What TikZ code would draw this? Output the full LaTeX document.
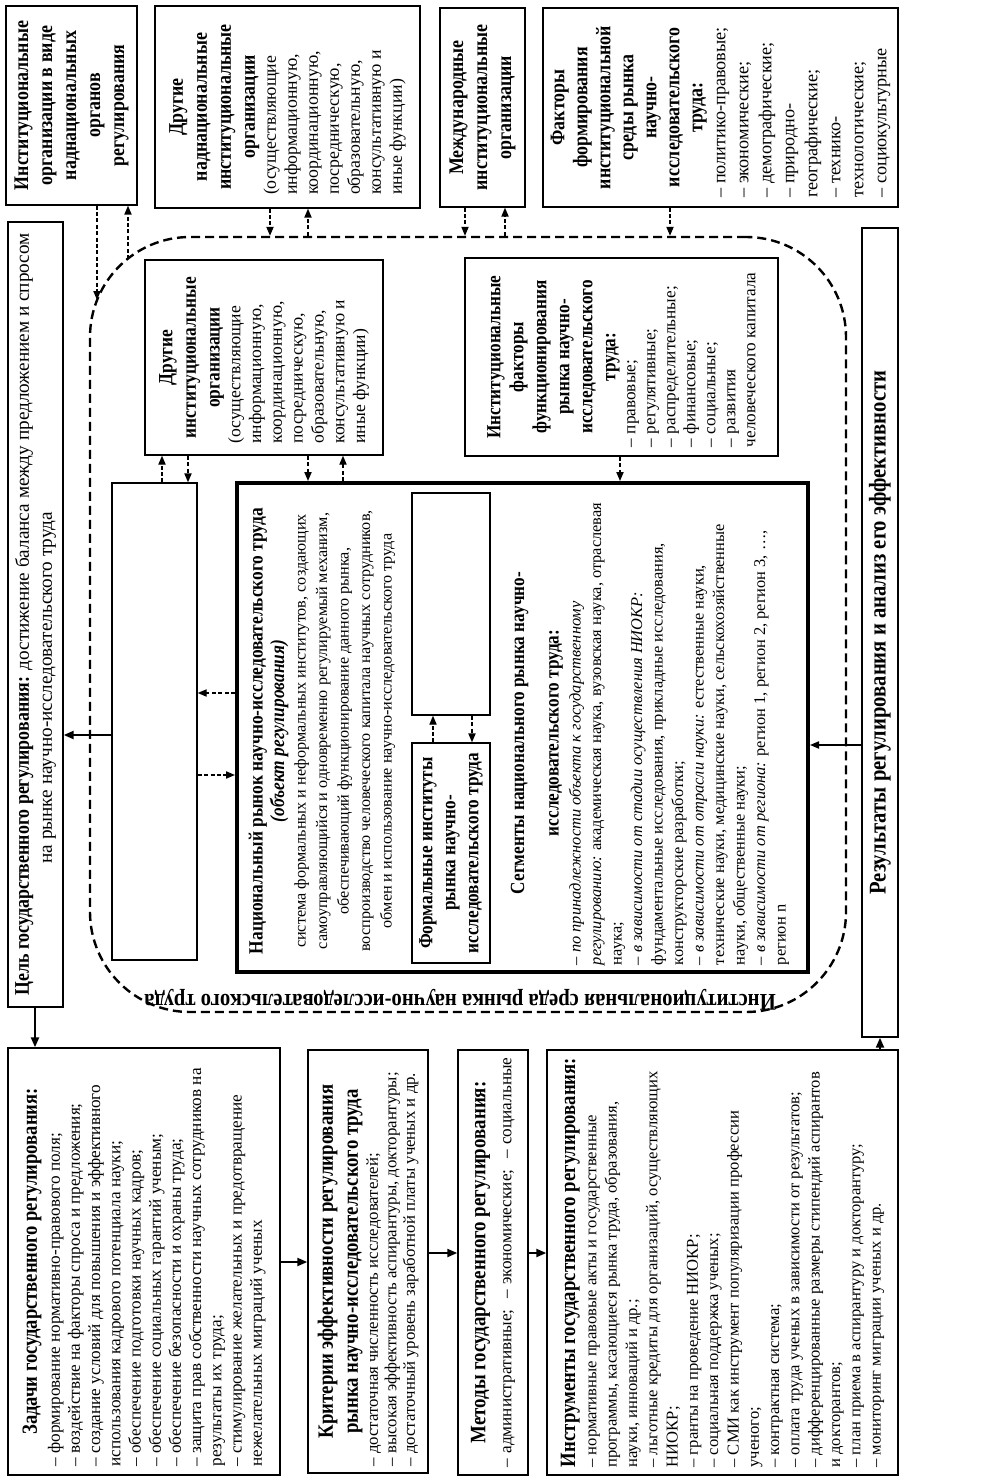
\documentclass[tikz,border=0pt]{standalone}
\usepackage{fontspec}
\setmainfont{Liberation Serif}[BoldFeatures={FakeStretch=0.86},BoldItalicFeatures={FakeStretch=0.86}]
\usetikzlibrary{arrows.meta}
\newlength\jw
\newcommand\Lj[1]{\makebox[\jw][l]{#1}}
\newcommand\Cj[1]{\makebox[\jw][c]{#1}}
\newcommand\Sj[1]{\makebox[\jw][s]{#1}}
\newcommand\fs[2]{\fontsize{#1}{#2}\selectfont}
\newcommand\Tl[2][10.4]{\Cj{\fs{#1}{12}\bfseries #2}}
\newcommand\rbox[7]{%
  \pgfmathsetmacro\rbcx{(#2+#4)/2}%
  \pgfmathsetmacro\rbcy{(#3+#5)/2}%
  \pgfmathsetmacro\rbw{(#5-#3)/2}%
  \pgfmathsetmacro\rbh{(#4-#2)/2}%
  \node[box, rotate=90, minimum width=\rbw pt, minimum height=\rbh pt, #6] (#1) at (\rbcx,\rbcy) {#7};}
\tikzset{
  box/.style={draw, line width=0.7pt, inner sep=0pt},
  jw/.style={execute at begin node={\setlength\jw{#1}}},
  dar/.style={line width=0.7pt, dash pattern=on 2pt off 1.2pt, -{Triangle[length=4.5pt,width=3.6pt]}},
  sar/.style={line width=1.1pt, -{Triangle[length=5pt,width=4pt]}},
  tar/.style={line width=0.7pt, -{Triangle[length=4.5pt,width=3.6pt]}},
  envst/.style={draw, line width=1.2pt, dash pattern=on 4.5pt off 2.5pt, rounded corners=50pt, inner sep=0pt},
}
\begin{document}
\begin{tikzpicture}[x=0.5pt,y=-0.5pt]
\useasboundingbox[fill=white] (0,0) rectangle (980,1482);

% environment
\node[envst, minimum width=378pt, minimum height=387.5pt] (env) at (468,624.5) {};
\node[rotate=180, font=\fs{12}{13}\bfseries] (envl) at (460,1000) {Институциональная среда рынка научно-исследовательского труда};
\coordinate (eA1) at (97,300);
\coordinate (eA2) at (128,259);

% top row
\rbox{A}{6}{6}{137}{205}{font=\fs{10.4}{12}\bfseries, align=center}{Институциональные\\организации в виде\\наднациональных\\органов\\регулирования}
\rbox{B}{155}{6}{420}{208}{font=\fs{8.9}{10.5}, jw=88pt, align=left}{\Tl{Другие}\\[1.5pt]\Tl{наднациональные}\\[1.5pt]\Tl{институциональные}\\[1.5pt]\Tl{организации}\\\Lj{(осуществляющие}\\\Lj{информационную,}\\\Lj{координационную,}\\\Lj{посредническую,}\\\Lj{образовательную,}\\\Lj{консультативную и}\\\Lj{иные функции)}}
\rbox{C}{440}{8}{525}{207}{font=\fs{10.4}{12}\bfseries, align=center}{Международные\\институциональные\\организации}
\rbox{D}{543}{8}{898}{207}{font=\fs{9.1}{11.5}, jw=90pt, align=left}{\Tl{Факторы}\\\Tl{формирования}\\\Tl{институциональной}\\\Tl{среды рынка}\\\Tl{научно-}\\\Tl{исследовательского}\\\Tl{труда:}\\\Lj{– политико-правовые;}\\\Lj{– экономические;}\\\Lj{– демографические;}\\\Lj{– природно-}\\\Lj{географические;}\\\Lj{– технико-}\\\Lj{технологические;}\\\Lj{– социокультурные}}

% goal
\rbox{G}{8}{222}{63}{1007}{font=\fs{9.6}{11.5}, jw=377pt, align=left}{\Cj{{\fs{10.4}{12}\bfseries Цель государственного регулирования:} достижение баланса между предложением и спросом}\\\Lj{\hspace{64pt}на рынке научно-исследовательского труда}}

% inner boxes
\rbox{E}{145}{260}{383}{455}{font=\fs{8.8}{10.4}, jw=86pt, align=left}{\Tl[10.1]{Другие}\\[1.4pt]\Tl[10.1]{институциональные}\\[1.4pt]\Tl[10.1]{организации}\\\Lj{(осуществляющие}\\\Lj{информационную,}\\\Lj{координационную,}\\\Lj{посредническую,}\\\Lj{образовательную,}\\\Lj{консультативную и}\\\Lj{иные функции)}}
\rbox{F}{465}{258}{778}{456}{font=\fs{8.6}{10}, jw=90pt, align=left}{\Tl[10]{Институциональные}\\[1.5pt]\Tl[10]{факторы}\\[1.5pt]\Tl[10]{функционирования}\\[1.5pt]\Tl[10]{рынка научно-}\\[1.5pt]\Tl[10]{исследовательского}\\[1.5pt]\Tl[10]{труда:}\\\Lj{– правовые;}\\\Lj{– регулятивные;}\\\Lj{– распределительные;}\\\Lj{– финансовые;}\\\Lj{– социальные;}\\\Lj{– развития}\\\Lj{человеческого капитала}}
\node[box, minimum width=42.5pt, minimum height=238.5pt] (L) at (154.5,721.5) {};
\node[box, line width=2pt, minimum width=285.5pt, minimum height=244.5pt] (M) at (522.5,727.5) {};
\node[box, minimum width=39pt, minimum height=111pt] (IE) at (451,604) {};
\rbox{FI}{412}{743}{490}{963}{font=\fs{10}{11.5}\bfseries, align=center}{Формальные институты\\рынка научно-\\исследовательского труда}
\node[rotate=90, align=center, font=\fs{8.1}{10.75}] (MT) at (322,731) {{\fs{10.1}{11}\bfseries Национальный рынок научно-исследовательского труда}\\{\fs{10.1}{11}\bfseries\itshape (объект регулирования)}\\система формальных и неформальных институтов, создающих\\самоуправляющийся и одновременно регулируемый механизм,\\обеспечивающий функционирование данного рынка,\\воспроизводство человеческого капитала научных сотрудников,\\обмен и использование научно-исследовательского труда};
\node[rotate=90, align=left, font=\fs{8.2}{10.25}, jw=232pt] (MS) at (650,733) {\Tl[10]{Сегменты национального рынка научно-}\\[7pt]\Tl[10]{исследовательского труда:}\\[0.7pt]\Lj{\itshape – по принадлежности объекта к государственному}\\\Lj{\textit{регулированию:} академическая наука, вузовская наука, отраслевая}\\\Lj{наука;}\\\Lj{\itshape – в зависимости от стадии осуществления НИОКР:}\\\Lj{фундаментальные исследования, прикладные исследования,}\\\Lj{конструкторские разработки;}\\\Lj{\textit{– в зависимости от отрасли науки:} естественные науки,}\\\Lj{технические науки, медицинские науки, сельскохозяйственные}\\\Lj{науки, общественные науки;}\\\Lj{\textit{– в зависимости от региона:} регион 1, регион 2, регион 3, …,}\\\Lj{регион n}};

% results
\rbox{R}{862}{228}{898}{1037}{font=\fs{12}{13}\bfseries, align=center}{Результаты регулирования и анализ его эффективности}

% bottom row
\rbox{Z}{8}{1048}{280}{1475}{font=\fs{8.6}{10.1}, jw=205pt, align=left}{\Cj{\fs{10.8}{12}\bfseries Задачи государственного регулирования:}\\[1.4pt]\Lj{– формирование нормативно-правового поля;}\\\Lj{– воздействие на факторы спроса и предложения;}\\\Lj{– создание условий для повышения и эффективного}\\\Lj{использования кадрового потенциала науки;}\\\Lj{– обеспечение подготовки научных кадров;}\\\Lj{– обеспечение социальных гарантий ученым;}\\\Lj{– обеспечение безопасности и охраны труда;}\\\Lj{– защита прав собственности научных сотрудников на}\\\Lj{результаты их труда;}\\\Lj{– стимулирование желательных и предотвращение}\\\Lj{нежелательных миграций ученых}}
\rbox{K}{308}{1050}{428}{1473}{font=\fs{8.4}{9.25}, jw=205pt, align=left}{\Tl[10.9]{Критерии эффективности регулирования}\\[3.25pt]\Tl[10.9]{рынка научно-исследовательского труда}\\[0.75pt]\Lj{– достаточная численность исследователей;}\\\Lj{– высокая эффективность аспирантуры, докторантуры;}\\\Lj{– достаточный уровень заработной платы ученых и др.}}
\rbox{Mt}{458}{1050}{528}{1475}{font=\fs{8.6}{13}, jw=205pt, align=left}{\Cj{\fs{11}{12}\bfseries Методы государственного регулирования:}\\\Sj{– административные;\ \ – экономические;\ \ – социальные}}
\rbox{I}{547}{1050}{898}{1475}{font=\fs{8.3}{10.15}, jw=205pt, align=left}{\Cj{\fs{10.9}{12}\bfseries Инструменты государственного регулирования:}\\[0.5pt]\Lj{– нормативные правовые акты и государственные}\\\Lj{программы, касающиеся рынка труда, образования,}\\\Lj{науки, инноваций и др.;}\\\Lj{– льготные кредиты для организаций, осуществляющих}\\\Lj{НИОКР;}\\\Lj{– гранты на проведение НИОКР;}\\\Lj{– социальная поддержка ученых;}\\\Lj{– СМИ как инструмент популяризации профессии}\\\Lj{ученого;}\\\Lj{– контрактная система;}\\\Lj{– оплата труда ученых в зависимости от результатов;}\\\Lj{– дифференцированные размеры стипендий аспирантов}\\\Lj{и докторантов;}\\\Lj{– план приема в аспирантуру и докторантуру;}\\\Lj{– мониторинг миграции ученых и др.}}

% connectors
\draw[dar] (97,0 |- A.west) -- (eA1);
\draw[dar] (eA2) -- (128,0 |- A.west);
\draw[dar] (270,0 |- B.west) -- (270,0 |- env.north);
\draw[dar] (308,0 |- env.north) -- (308,0 |- B.west);
\draw[dar] (465,0 |- C.west) -- (465,0 |- env.north);
\draw[dar] (505,0 |- env.north) -- (505,0 |- C.west);
\draw[dar] (670,0 |- D.west) -- (670,0 |- env.north);
\draw[dar] (162,0 |- L.north) -- (162,0 |- E.west);
\draw[dar] (188,0 |- E.west) -- (188,0 |- L.north);
\draw[dar] (308,0 |- E.west) -- (308,0 |- M.north);
\draw[dar] (343,0 |- M.north) -- (343,0 |- E.west);
\draw[dar] (620,0 |- F.west) -- (620,0 |- M.north);
\draw[dar] (433,0 |- FI.east) -- (433,0 |- IE.south);
\draw[dar] (472,0 |- IE.south) -- (472,0 |- FI.east);
\draw[dar] (M.west |- 0,693) -- (L.east |- 0,693);
\draw[dar] (L.east |- 0,775) -- (M.west |- 0,775);
\draw[sar] (L.west |- 0,735) -- (G.south |- 0,735);
\draw[sar] (35,0 |- G.west) -- (35,0 |- Z.east);
\draw[sar] (Z.south |- 0,1262) -- (K.north |- 0,1262);
\draw[sar] (K.south |- 0,1253) -- (Mt.north |- 0,1253);
\draw[sar] (Mt.south |- 0,1253) -- (I.north |- 0,1253);
\draw[sar] (880,0 |- I.east) -- (880,0 |- R.west);
\draw[tar] (R.north |- 0,745) -- (M.east |- 0,745);
\end{tikzpicture}
\end{document}
